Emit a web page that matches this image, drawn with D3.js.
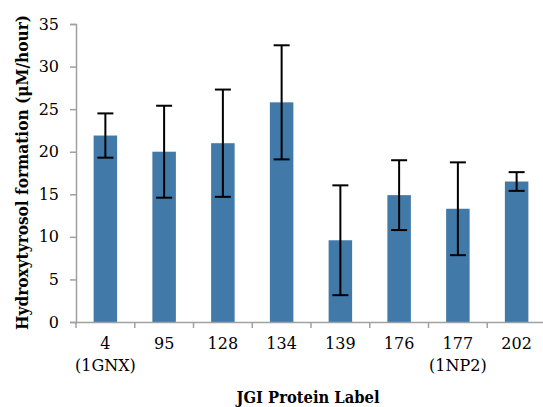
<!DOCTYPE html>
<html>
<head>
<meta charset="utf-8">
<script src="https://cdn.jsdelivr.net/npm/d3@7"></script>
<style>
  body { margin: 0; background: #fff; }
  svg { display: block; }
  .tick text { font-family: "DejaVu Serif", serif; font-size: 16px; fill: #000; }
</style>
</head>
<body>
<svg width="543" height="407"></svg>
<script>
// hydroxytyrosol formation per protein
const labels = ['4', '95', '128', '134', '139', '176', '177', '202'];
const subLabels = ['(1GNX)', '', '', '', '', '', '(1NP2)', ''];
const rates = [21.9, 20.0, 21.0, 25.8, 9.6, 14.9, 13.3, 16.5];
const errors = [2.6, 5.4, 6.3, 6.7, 6.45, 4.1, 5.45, 1.1];
const yTicks = [0, 5, 10, 15, 20, 25, 30, 35];

const svg = d3.select('svg');
const plotL = 76, plotR = 546, plotT = 24, plotB = 322;

const x = d3.scaleBand()
  .domain(labels)
  .range([plotL, plotR])
  .paddingInner(0.6)
  .paddingOuter(0.3);

const y = d3.scaleLinear().domain([0, 35]).range([plotB, plotT]);

// axes
const yAxis = svg.append('g')
  .attr('transform', `translate(${plotL},0)`)
  .call(d3.axisLeft(y).tickValues(yTicks).tickSize(6).tickPadding(11));
yAxis.select('.domain').attr('stroke', '#a0a0a0').attr('stroke-width', 1.5);
yAxis.selectAll('.tick line').attr('stroke', '#a0a0a0').attr('stroke-width', 1.5);

// bars
svg.append('g').selectAll('rect')
  .data(rates)
  .enter().append('rect')
    .attr('x', (d, i) => x(labels[i]))
    .attr('y', d => y(d))
    .attr('width', x.bandwidth())
    .attr('height', d => y(0) - y(d))
    .attr('fill', '#4179a8');

const xAxis = svg.append('g')
  .attr('transform', `translate(0,${plotB})`)
  .call(d3.axisBottom(x).tickSize(0).tickPadding(16));
xAxis.select('.domain').attr('stroke', '#a0a0a0').attr('stroke-width', 1.5);
xAxis.selectAll('.tick text').each(function(d, i) {
  const t = d3.select(this);
  t.text(null);
  t.append('tspan').attr('x', 0).text(d);
  if (subLabels[i]) t.append('tspan').attr('x', 0).attr('dy', 22).text(subLabels[i]);
});
// category separators
xAxis.selectAll('.sep')
  .data(d3.range(labels.length + 1))
  .enter().append('line')
    .attr('x1', i => plotL + i * x.step())
    .attr('x2', i => plotL + i * x.step())
    .attr('y1', 0).attr('y2', 6)
    .attr('stroke', '#a0a0a0').attr('stroke-width', 1.5);

// error bars
const eb = svg.append('g').attr('stroke', '#000').attr('stroke-width', 2);
rates.forEach((v, i) => {
  const cx = x(labels[i]) + x.bandwidth() / 2;
  const hi = y(v + errors[i]), lo = y(v - errors[i]);
  eb.append('line').attr('x1', cx).attr('x2', cx).attr('y1', hi).attr('y2', lo);
  eb.append('line').attr('x1', cx - 8).attr('x2', cx + 8).attr('y1', hi).attr('y2', hi);
  eb.append('line').attr('x1', cx - 8).attr('x2', cx + 8).attr('y1', lo).attr('y2', lo);
});

// titles
svg.append('text')
  .attr('transform', `translate(28,${(15 + 330) / 2}) rotate(-90)`)
  .attr('text-anchor', 'middle')
  .style('font-family', '"DejaVu Serif", serif')
  .style('font-weight', 'bold')
  .style('font-size', '16px')
  .attr('textLength', 315)
  .attr('lengthAdjust', 'spacingAndGlyphs')
  .text('Hydroxytyrosol formation (μM/hour)');

svg.append('text')
  .attr('x', 308).attr('y', 403)
  .attr('text-anchor', 'middle')
  .style('font-family', '"DejaVu Serif", serif')
  .style('font-weight', 'bold')
  .style('font-size', '16px')
  .attr('textLength', 143)
  .attr('lengthAdjust', 'spacingAndGlyphs')
  .text('JGI Protein Label');
</script>
</body>
</html>
